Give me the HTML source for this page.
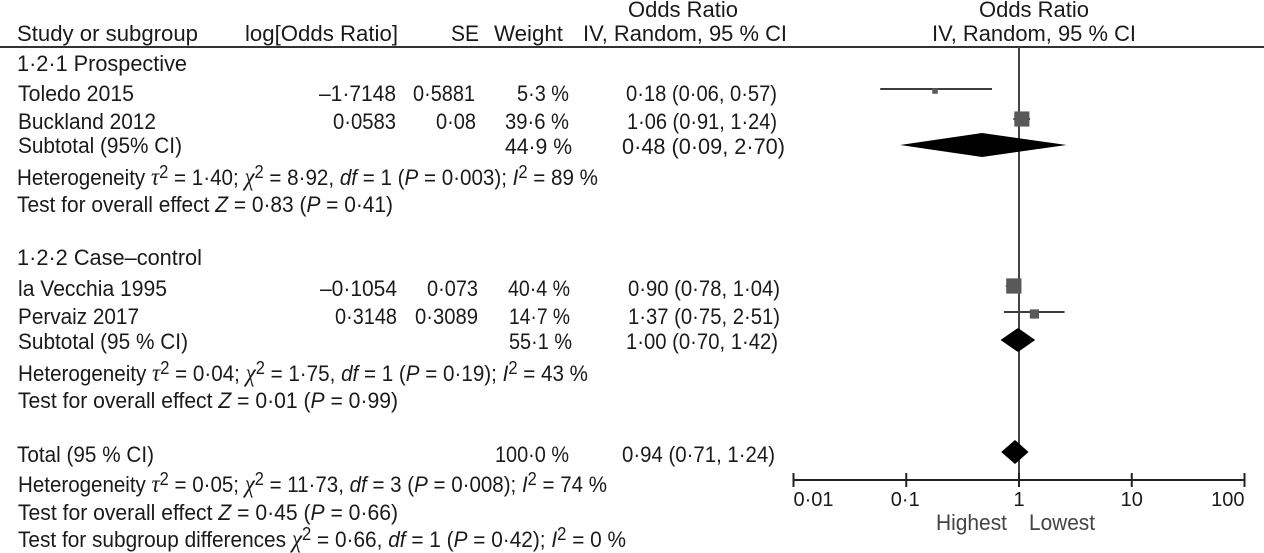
<!DOCTYPE html>
<html lang="en">
<head>
<meta charset="utf-8">
<title>Forest plot</title>
<style>
html,body{margin:0;padding:0;background:#fff;width:1264px;height:553px;overflow:hidden}
svg{display:block}
text{font-family:"Liberation Sans",sans-serif;font-size:22.5px;fill:#1a1a1a}
.i{font-style:italic}
.g{font-family:"Liberation Serif",serif;font-style:italic;font-size:25px}
</style>
</head>
<body>
<svg id="plot" width="1264" height="553" viewBox="0 0 1264 553" xmlns="http://www.w3.org/2000/svg">
<g>
<text x="628" y="17" textLength="110" lengthAdjust="spacingAndGlyphs">Odds Ratio</text>
<text x="979" y="17" textLength="110" lengthAdjust="spacingAndGlyphs">Odds Ratio</text>
<text x="17" y="41" textLength="181" lengthAdjust="spacingAndGlyphs">Study or subgroup</text>
<text x="245" y="41" textLength="153" lengthAdjust="spacingAndGlyphs">log[Odds Ratio]</text>
<text x="451" y="41" textLength="28" lengthAdjust="spacingAndGlyphs">SE</text>
<text x="494" y="41" textLength="69" lengthAdjust="spacingAndGlyphs">Weight</text>
<text x="583" y="41" textLength="204" lengthAdjust="spacingAndGlyphs">IV, Random, 95 % CI</text>
<text x="932" y="41" textLength="204" lengthAdjust="spacingAndGlyphs">IV, Random, 95 % CI</text>
<rect x="0" y="46" width="1264" height="2" fill="#333"/>
</g>
<g>
<text x="17" y="71" textLength="170" lengthAdjust="spacingAndGlyphs">1·2·1 Prospective</text>
<text x="18" y="101" textLength="116" lengthAdjust="spacingAndGlyphs">Toledo 2015</text>
<text x="319" y="101" textLength="77" lengthAdjust="spacingAndGlyphs">–1·7148</text>
<text x="413" y="101" textLength="62" lengthAdjust="spacingAndGlyphs">0·5881</text>
<text x="517" y="101" textLength="52" lengthAdjust="spacingAndGlyphs">5·3 %</text>
<text x="626" y="101" textLength="151" lengthAdjust="spacingAndGlyphs">0·18 (0·06, 0·57)</text>
<text x="18" y="129" textLength="138" lengthAdjust="spacingAndGlyphs">Buckland 2012</text>
<text x="333" y="129" textLength="63" lengthAdjust="spacingAndGlyphs">0·0583</text>
<text x="436" y="129" textLength="40" lengthAdjust="spacingAndGlyphs">0·08</text>
<text x="505" y="129" textLength="64" lengthAdjust="spacingAndGlyphs">39·6 %</text>
<text x="627" y="129" textLength="150" lengthAdjust="spacingAndGlyphs">1·06 (0·91, 1·24)</text>
<text x="18" y="153" textLength="164" lengthAdjust="spacingAndGlyphs">Subtotal (95% CI)</text>
<text x="505" y="154" textLength="67" lengthAdjust="spacingAndGlyphs">44·9 %</text>
<text x="622" y="154" textLength="163" lengthAdjust="spacingAndGlyphs">0·48 (0·09, 2·70)</text>
<text x="17" y="185" textLength="581" lengthAdjust="spacingAndGlyphs">Heterogeneity <tspan class="g">τ</tspan><tspan dy="-7" font-size="18">2</tspan><tspan dy="7"> = 1·40; </tspan><tspan class="g">χ</tspan><tspan dy="-7" font-size="18">2</tspan><tspan dy="7"> = 8·92, </tspan><tspan class="i">df</tspan> = 1 (<tspan class="i">P</tspan> = 0·003); <tspan class="i">I</tspan><tspan dy="-7" font-size="18">2</tspan><tspan dy="7"> = 89 %</tspan></text>
<text x="17" y="212" textLength="376" lengthAdjust="spacingAndGlyphs">Test for overall effect <tspan class="i">Z</tspan> = 0·83 (<tspan class="i">P</tspan> = 0·41)</text>
</g>
<g>
<text x="17" y="265" textLength="185" lengthAdjust="spacingAndGlyphs">1·2·2 Case–control</text>
<text x="18" y="296" textLength="149" lengthAdjust="spacingAndGlyphs">la Vecchia 1995</text>
<text x="320" y="296" textLength="77" lengthAdjust="spacingAndGlyphs">–0·1054</text>
<text x="427" y="296" textLength="51" lengthAdjust="spacingAndGlyphs">0·073</text>
<text x="508" y="296" textLength="62" lengthAdjust="spacingAndGlyphs">40·4 %</text>
<text x="628" y="296" textLength="152" lengthAdjust="spacingAndGlyphs">0·90 (0·78, 1·04)</text>
<text x="18" y="324" textLength="121" lengthAdjust="spacingAndGlyphs">Pervaiz 2017</text>
<text x="335" y="324" textLength="62" lengthAdjust="spacingAndGlyphs">0·3148</text>
<text x="415" y="324" textLength="63" lengthAdjust="spacingAndGlyphs">0·3089</text>
<text x="509" y="324" textLength="61" lengthAdjust="spacingAndGlyphs">14·7 %</text>
<text x="628" y="324" textLength="152" lengthAdjust="spacingAndGlyphs">1·37 (0·75, 2·51)</text>
<text x="18" y="349" textLength="170" lengthAdjust="spacingAndGlyphs">Subtotal (95 % CI)</text>
<text x="509" y="349" textLength="63" lengthAdjust="spacingAndGlyphs">55·1 %</text>
<text x="626" y="349" textLength="152" lengthAdjust="spacingAndGlyphs">1·00 (0·70, 1·42)</text>
<text x="18" y="381" textLength="570" lengthAdjust="spacingAndGlyphs">Heterogeneity <tspan class="g">τ</tspan><tspan dy="-7" font-size="18">2</tspan><tspan dy="7"> = 0·04; </tspan><tspan class="g">χ</tspan><tspan dy="-7" font-size="18">2</tspan><tspan dy="7"> = 1·75, </tspan><tspan class="i">df</tspan> = 1 (<tspan class="i">P</tspan> = 0·19); <tspan class="i">I</tspan><tspan dy="-7" font-size="18">2</tspan><tspan dy="7"> = 43 %</tspan></text>
<text x="18" y="408" textLength="380" lengthAdjust="spacingAndGlyphs">Test for overall effect <tspan class="i">Z</tspan> = 0·01 (<tspan class="i">P</tspan> = 0·99)</text>
</g>
<g>
<text x="17" y="462" textLength="137" lengthAdjust="spacingAndGlyphs">Total (95 % CI)</text>
<text x="495" y="462" textLength="74" lengthAdjust="spacingAndGlyphs">100·0 %</text>
<text x="622" y="462" textLength="153" lengthAdjust="spacingAndGlyphs">0·94 (0·71, 1·24)</text>
<text x="18" y="492" textLength="589" lengthAdjust="spacingAndGlyphs">Heterogeneity <tspan class="g">τ</tspan><tspan dy="-7" font-size="18">2</tspan><tspan dy="7"> = 0·05; </tspan><tspan class="g">χ</tspan><tspan dy="-7" font-size="18">2</tspan><tspan dy="7"> = 11·73, </tspan><tspan class="i">df</tspan> = 3 (<tspan class="i">P</tspan> = 0·008); <tspan class="i">I</tspan><tspan dy="-7" font-size="18">2</tspan><tspan dy="7"> = 74 %</tspan></text>
<text x="18" y="520" textLength="380" lengthAdjust="spacingAndGlyphs">Test for overall effect <tspan class="i">Z</tspan> = 0·45 (<tspan class="i">P</tspan> = 0·66)</text>
<text x="18" y="547" textLength="608" lengthAdjust="spacingAndGlyphs">Test for subgroup differences <tspan class="g">χ</tspan><tspan dy="-7" font-size="18">2</tspan><tspan dy="7"> = 0·66, </tspan><tspan class="i">df</tspan> = 1 (<tspan class="i">P</tspan> = 0·42); <tspan class="i">I</tspan><tspan dy="-7" font-size="18">2</tspan><tspan dy="7"> = 0 %</tspan></text>
</g>
<g id="marks"></g>
</svg>
<script>
const studies = ['toledo', 'buckland', 'la-vecchia', 'pervaiz'];
const studyOr = [0.18, 1.06, 0.90, 1.37];
const studyLow = [0.06, 0.91, 0.78, 0.75];
const studyHigh = [0.57, 1.24, 1.04, 2.51];
const studyWeight = [5.3, 39.6, 40.4, 14.7];
const pooled = ['prospective-subtotal', 'case-control-subtotal', 'total'];
const pooledOr = [0.48, 1.00, 0.94];
const pooledLow = [0.09, 0.70, 0.71];
const pooledHigh = [2.70, 1.42, 1.24];
const tickValues = [0.01, 0.1, 1, 10, 100];
const tickLabels = ['0·01', '0·1', '1', '10', '100'];

const NS = 'http://www.w3.org/2000/svg';
const marks = document.getElementById('marks');
const AXIS_Y = 480;
function xScale(v) { return 1019 + Math.log10(v) * 112.75; }
function make(tag, attrs) {
  const el = document.createElementNS(NS, tag);
  Object.keys(attrs).forEach(function (k) { el.setAttribute(k, attrs[k]); });
  marks.appendChild(el);
  return el;
}
function drawStudy(i, lineY, squareY) {
  const line = make('line', { x1: xScale(studyLow[i]) - 1, x2: xScale(studyHigh[i]) + 0.5, y1: lineY, y2: lineY, stroke: '#3d3d3d', 'stroke-width': 2 });
  
  
  const size = 2.4 * Math.sqrt(studyWeight[i]);
  const sq = make('rect', { x: xScale(studyOr[i]) - size / 2, y: squareY - size / 2, width: size, height: size, fill: '#595959' });
  
  
}
function drawDiamond(i, y) {
  const l = xScale(pooledLow[i]) - 1, h = xScale(pooledHigh[i]) - 1, c = xScale(pooledOr[i]) - 1;
  const d = make('polygon', { points: l + ',' + y + ' ' + c + ',' + (y - 12) + ' ' + h + ',' + y + ' ' + c + ',' + (y + 12), fill: '#000' });
  
  
}
const refLine = make('line', { x1: xScale(1), x2: xScale(1), y1: 47, y2: AXIS_Y, stroke: '#444', 'stroke-width': 2 });


drawStudy(0, 89, 91);
drawStudy(1, 119, 119);
drawStudy(2, 286, 286);
drawStudy(3, 312, 314);
drawDiamond(0, 145);
drawDiamond(1, 340);
drawDiamond(2, 452);
const axis = make('line', { x1: xScale(tickValues[0]) - 1, x2: xScale(tickValues[tickValues.length - 1]) + 1, y1: AXIS_Y, y2: AXIS_Y, stroke: '#222', 'stroke-width': 2 });


tickValues.forEach(function (v, i) {
  const t = make('line', { x1: xScale(v), x2: xScale(v), y1: AXIS_Y - 7, y2: AXIS_Y + 7, stroke: '#222', 'stroke-width': 2 });
  
  
  const anchor = i === 0 ? 'start' : (i === tickValues.length - 1 ? 'end' : 'middle');
  const lab = make('text', { x: xScale(v) + (i === 1 ? -1 : 0), y: 506, 'text-anchor': anchor, style: 'font-size:20px' });
  
  
  lab.textContent = tickLabels[i];
});
const hi = make('text', { x: 936, y: 530, textLength: 71, lengthAdjust: 'spacingAndGlyphs', style: 'fill:#444' });


hi.textContent = 'Highest';
const lo = make('text', { x: 1029, y: 530, textLength: 66, lengthAdjust: 'spacingAndGlyphs', style: 'fill:#444' });


lo.textContent = 'Lowest';
</script>
</body>
</html>
